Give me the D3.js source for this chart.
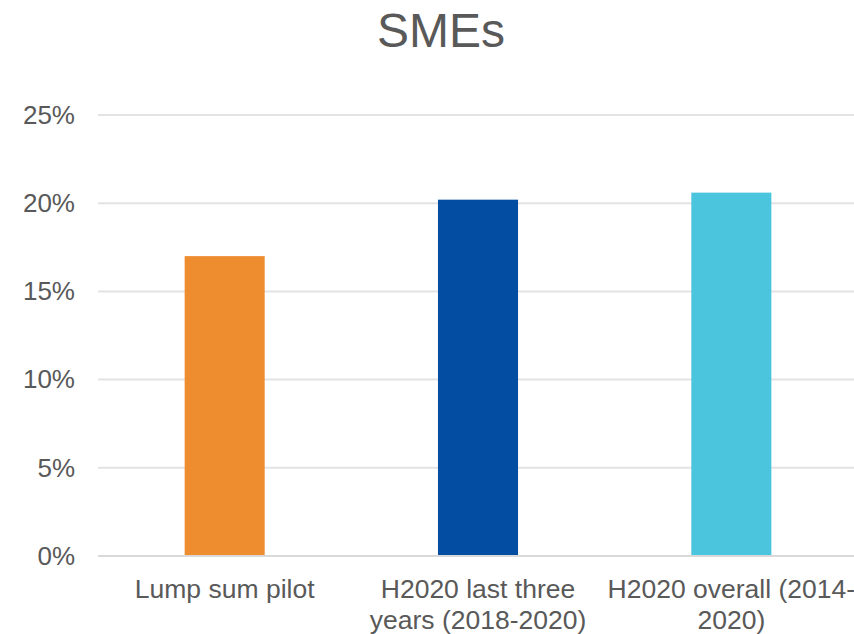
<!DOCTYPE html>
<html>
<head>
<meta charset="utf-8">
<script src="https://cdn.jsdelivr.net/npm/d3@7"></script>
<style>
  html, body { margin: 0; padding: 0; background: #ffffff; }
  svg { display: block; }
  text { font-family: "Liberation Sans", Arial, sans-serif; fill: #595959; }
</style>
</head>
<body>
<svg id="chart" width="854" height="634"></svg>
<script>
// Share of SMEs by programme scope
const title = "SMEs";
const categories = ["Lump sum pilot", "H2020 last three years (2018-2020)", "H2020 overall (2014-2020)"];
const categoryLabelLines = [
  ["Lump sum pilot"],
  ["H2020 last three", "years (2018-2020)"],
  ["H2020 overall (2014-", "2020)"]
];
const values = [0.170, 0.202, 0.206];
const barColors = ["#ED8D30", "#034EA2", "#4BC5DD"];
const yTicks = [0, 0.05, 0.10, 0.15, 0.20, 0.25];

const svg = d3.select("#chart");
const plot = { left: 98, right: 858, top: 115, bottom: 556 };

const x = d3.scaleBand()
  .domain(categories)
  .range([plot.left, plot.right])
  .padding(0);
const barWidth = x.bandwidth() * 0.316;

const y = d3.scaleLinear()
  .domain([0, 0.25])
  .range([plot.bottom, plot.top]);

// Title
svg.append("text")
  .attr("x", 441)
  .attr("y", 47)
  .attr("text-anchor", "middle")
  .style("font-size", "48px")
  .text(title);

// Horizontal gridlines
svg.append("g")
  .selectAll("line")
  .data(yTicks.filter(d => d > 0))
  .join("line")
  .attr("x1", plot.left)
  .attr("x2", plot.right)
  .attr("y1", d => y(d))
  .attr("y2", d => y(d))
  .attr("stroke", "#e3e3e3")
  .attr("stroke-width", 2);

// Y axis labels
const yAxis = d3.axisLeft(y)
  .tickValues(yTicks)
  .tickFormat(d3.format(".0%"))
  .tickSize(0)
  .tickPadding(23);
const yG = svg.append("g")
  .attr("transform", `translate(${plot.left},0)`)
  .call(yAxis);
yG.select(".domain").remove();
yG.selectAll("text")
  .style("font-size", "26px")
  .attr("fill", "#595959")
  .style("font-family", "'Liberation Sans', Arial, sans-serif");

// Bars
svg.append("g")
  .selectAll("rect")
  .data(categories)
  .join("rect")
  .attr("x", d => x(d) + (x.bandwidth() - barWidth) / 2)
  .attr("width", barWidth)
  .attr("y", (d, i) => y(values[i]))
  .attr("height", (d, i) => y(0) - y(values[i]))
  .attr("fill", (d, i) => barColors[i]);

// Baseline
svg.append("line")
  .attr("x1", plot.left)
  .attr("x2", plot.right)
  .attr("y1", y(0))
  .attr("y2", y(0))
  .attr("stroke", "#d9d9d9")
  .attr("stroke-width", 2);

// Category labels
const labels = svg.append("g")
  .selectAll("text")
  .data(categories)
  .join("text")
  .attr("text-anchor", "middle")
  .style("font-size", "26.5px")
  .attr("transform", d => `translate(${x(d) + x.bandwidth() / 2},598)`);
labels.selectAll("tspan")
  .data((d, i) => categoryLabelLines[i])
  .join("tspan")
  .attr("x", 0)
  .attr("y", (d, i) => i * 31)
  .text(d => d);
</script>
</body>
</html>
